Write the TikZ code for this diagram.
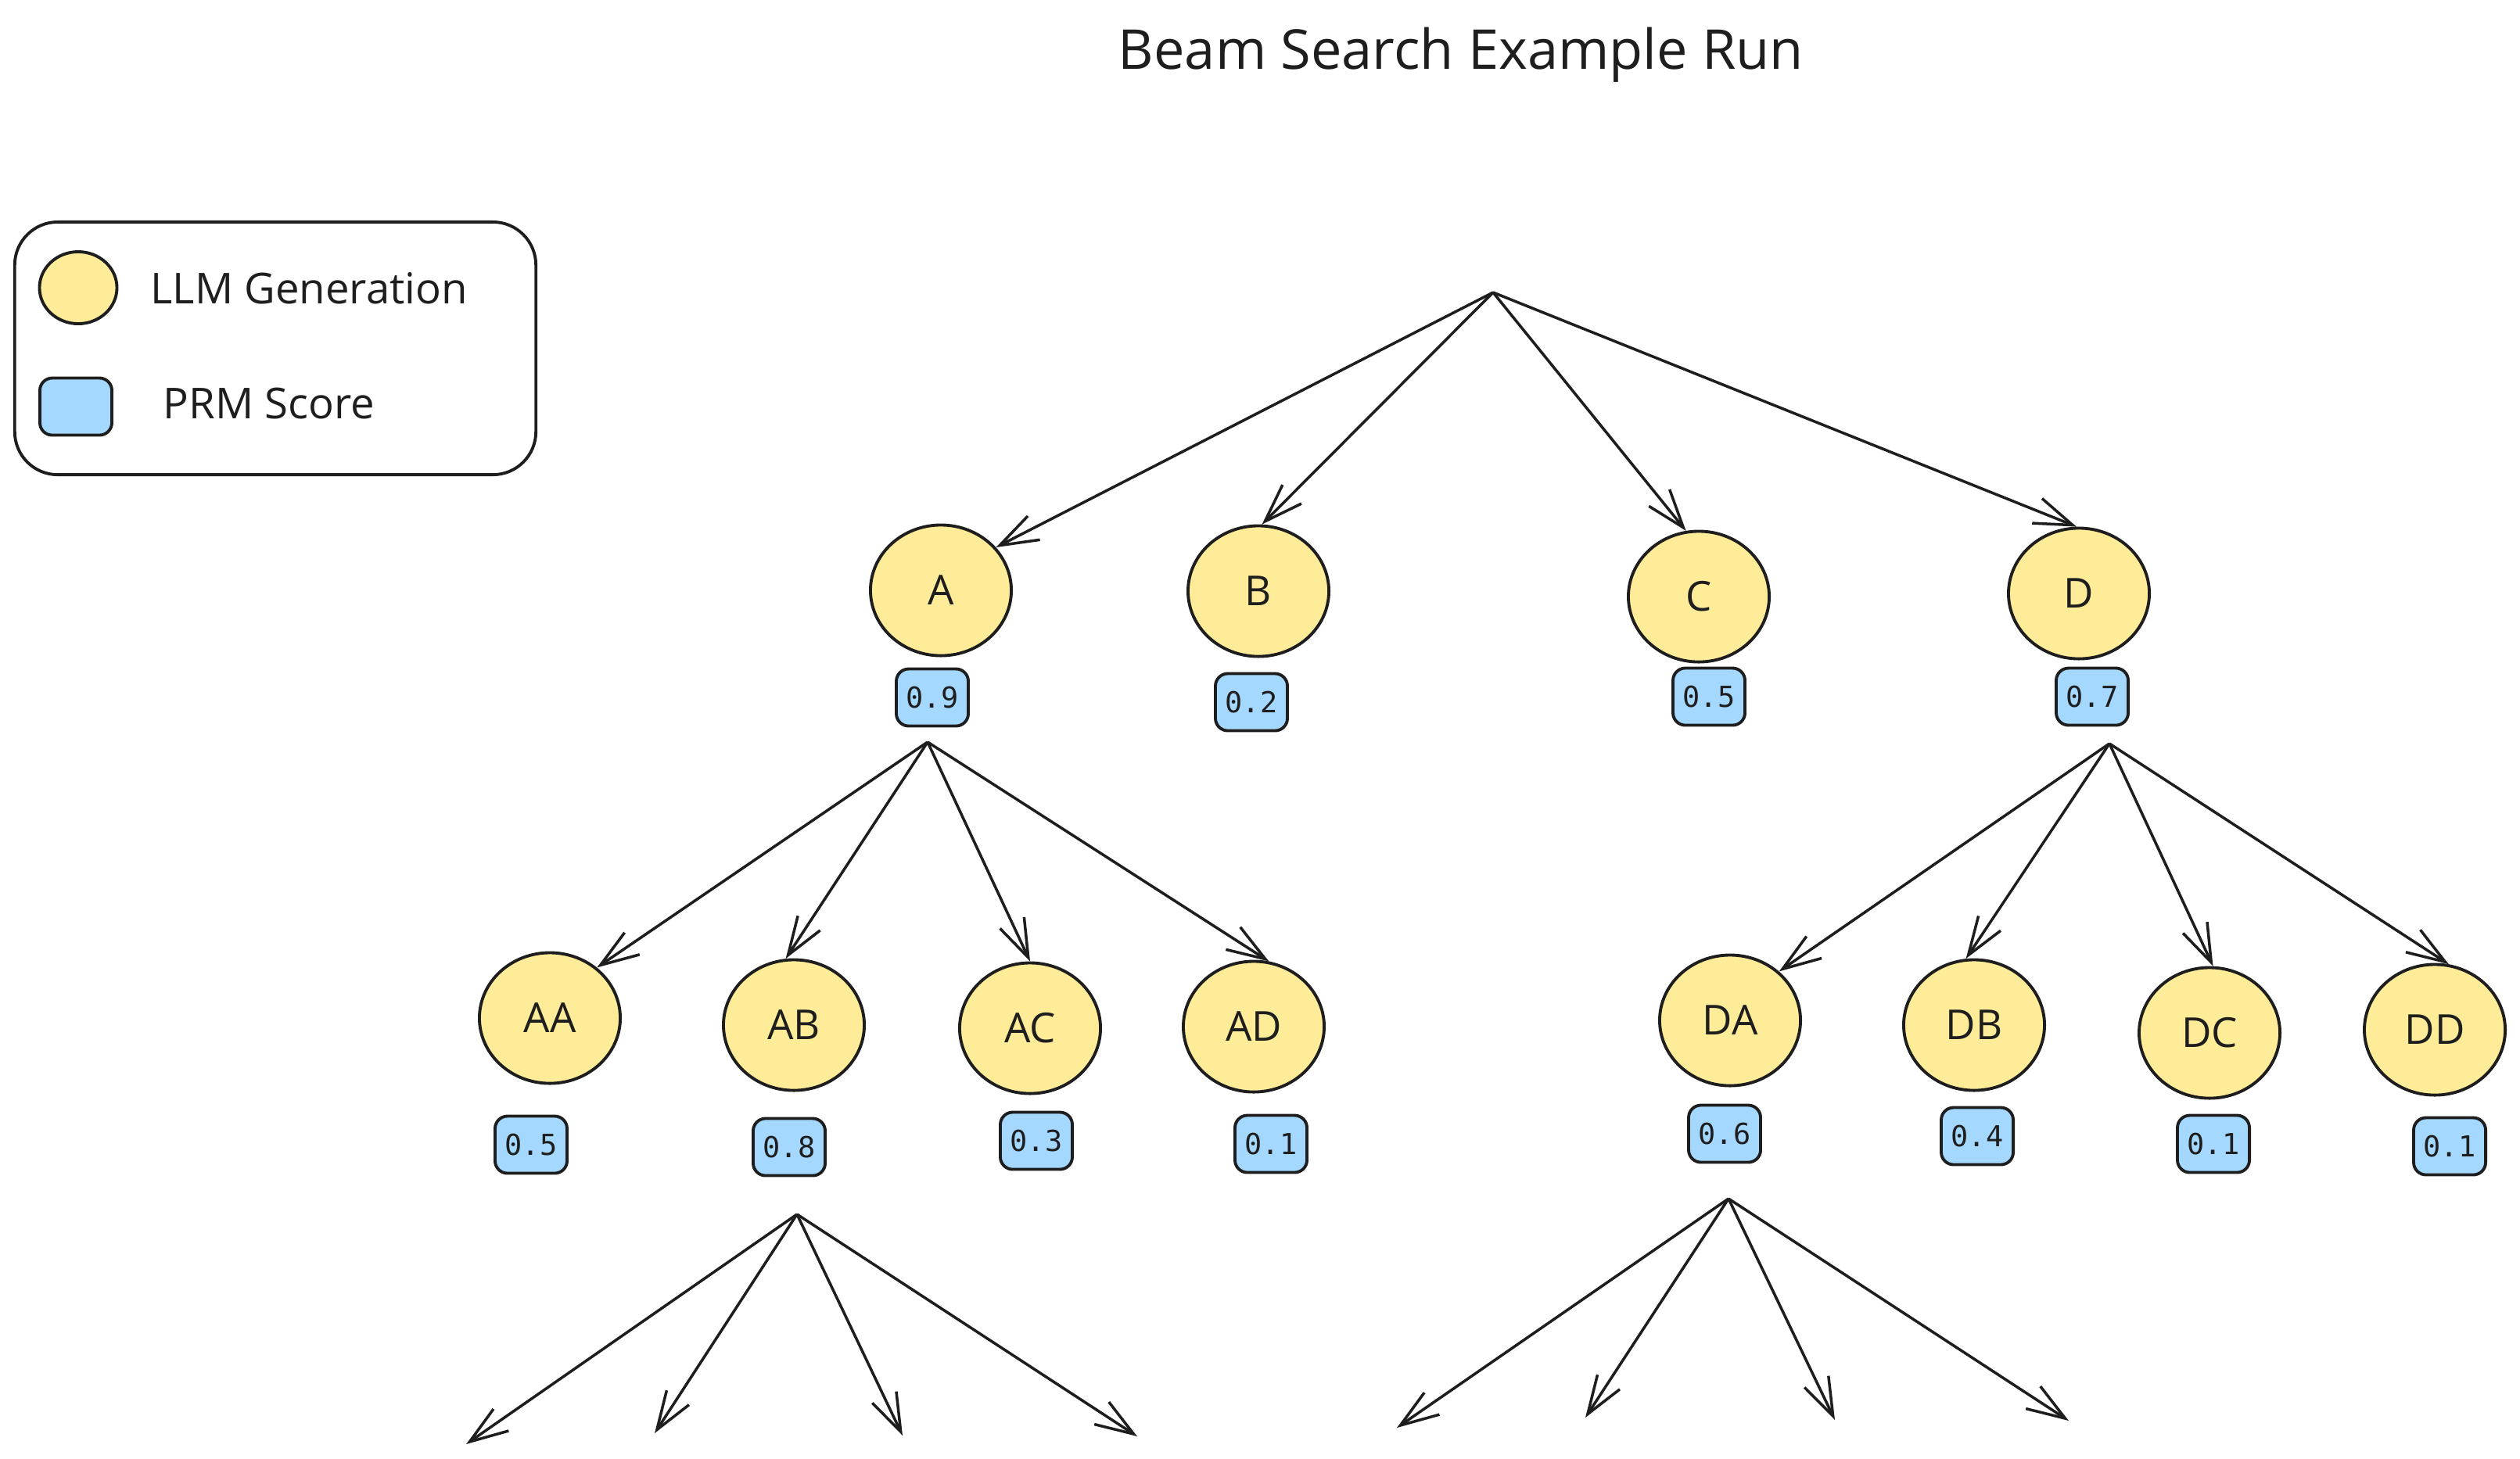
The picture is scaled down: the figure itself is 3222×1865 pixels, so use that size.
\documentclass[tikz,border=0pt]{standalone}
\usepackage{fontspec}
\setmainfont{Open Sans}
\newfontfamily\scorefont{DejaVu Sans Mono}
\usetikzlibrary{arrows.meta,shapes.geometric}

\definecolor{genyellow}{HTML}{FFEC99}
\definecolor{prmblue}{HTML}{A5D8FF}
\definecolor{ink}{HTML}{1E1E1E}

\begin{document}
\begin{tikzpicture}[x=0.01cm,y=-0.01cm,
  gen/.style={ellipse,draw=ink,fill=genyellow,line width=1.1pt,minimum width=1.8cm,minimum height=1.67cm,inner sep=0pt,text=ink,font=\fontsize{15}{18}\selectfont},
  score/.style={rectangle,rounded corners=4.5pt,draw=ink,fill=prmblue,line width=1.1pt,minimum width=0.92cm,minimum height=0.73cm,inner sep=0pt,text=ink,font=\scorefont\fontsize{10.5}{12}\selectfont},
  keytext/.style={anchor=base west,inner sep=0pt,text=ink,font=\fontsize{15.5}{18}\selectfont},
  arr/.style={draw=ink,line width=1pt,-{Straight Barb[length=4.9mm,width=3.4mm]}}]
\useasboundingbox (0,0) rectangle (3222,1865);

\node[anchor=base,text=ink,font=\fontsize{20}{24}\selectfont] (title) at (1868,88) {Beam Search Example Run};

% legend
\node[draw=ink,line width=1.1pt,rounded corners=0.55cm,minimum width=6.66cm,minimum height=3.23cm] (legend) at (352,445.5) {};
\node[gen,minimum width=0.99cm,minimum height=0.92cm] (keygen) at (100,368) {};
\node[score] (keyprm) at (97,520) {};
\node[keytext] (keygentext) at (192,388) {LLM Generation};
\node[keytext] (keyprmtext) at (208,535) {PRM Score};

% first step
\coordinate (root) at (1909,374);
\node[gen] (A) at (1203,755) {A};
\node[gen] (B) at (1609,756) {B};
\node[gen] (C) at (2172,763) {C};
\node[gen] (D) at (2658,759) {D};
\node[score] (sA) at (1192,892) {0.9};
\node[score] (sB) at (1600,898) {0.2};
\node[score] (sC) at (2185,891) {0.5};
\node[score] (sD) at (2675,891) {0.7};

\draw[arr] (root) -- (A.38);
\draw[arr] (root) -- (B.87);
\draw[arr] (root) -- (C.101);
\draw[arr] (root) -- (D.92);

% second step
\coordinate (Afork) at (1186,949);
\coordinate (Dfork) at (2697,951);
\node[gen] (AA) at (703,1302) {AA};
\node[gen] (AB) at (1015,1311) {AB};
\node[gen] (AC) at (1317,1315) {AC};
\node[gen] (AD) at (1603,1313) {AD};
\node[gen] (DA) at (2212,1305) {DA};
\node[gen] (DB) at (2524,1311) {DB};
\node[gen] (DC) at (2825,1321) {DC};
\node[gen] (DD) at (3113,1317) {DD};
\node[score] (sAA) at (679,1464) {0.5};
\node[score] (sAB) at (1009,1467) {0.8};
\node[score] (sAC) at (1325,1459) {0.3};
\node[score] (sAD) at (1625,1463) {0.1};
\node[score] (sDA) at (2205,1450) {0.6};
\node[score] (sDB) at (2528,1453) {0.4};
\node[score] (sDC) at (2830,1463) {0.1};
\node[score] (sDD) at (3132,1466) {0.1};

\foreach \n/\a in {AA/47,AB/97,AC/90,AD/77}
  \draw[arr] (Afork) -- (\n.\a);
\foreach \n/\a in {DA/45,DB/97,DC/87,DD/78}
  \draw[arr] (Dfork) -- (\n.\a);

% third step
\coordinate (ABfork) at (1019,1553);
\coordinate (DAfork) at (2210,1533);
\coordinate (ABa) at (596,1847);
\coordinate (ABb) at (837,1833);
\coordinate (ABc) at (1154,1836);
\coordinate (ABd) at (1454,1837);
\coordinate (DAa) at (1786,1826);
\coordinate (DAb) at (2027,1813);
\coordinate (DAc) at (2346,1816);
\coordinate (DAd) at (2645,1817);

\foreach \e in {a,b,c,d} {
  \draw[arr] (ABfork) -- (AB\e);
  \draw[arr] (DAfork) -- (DA\e);
}
\end{tikzpicture}
\end{document}
